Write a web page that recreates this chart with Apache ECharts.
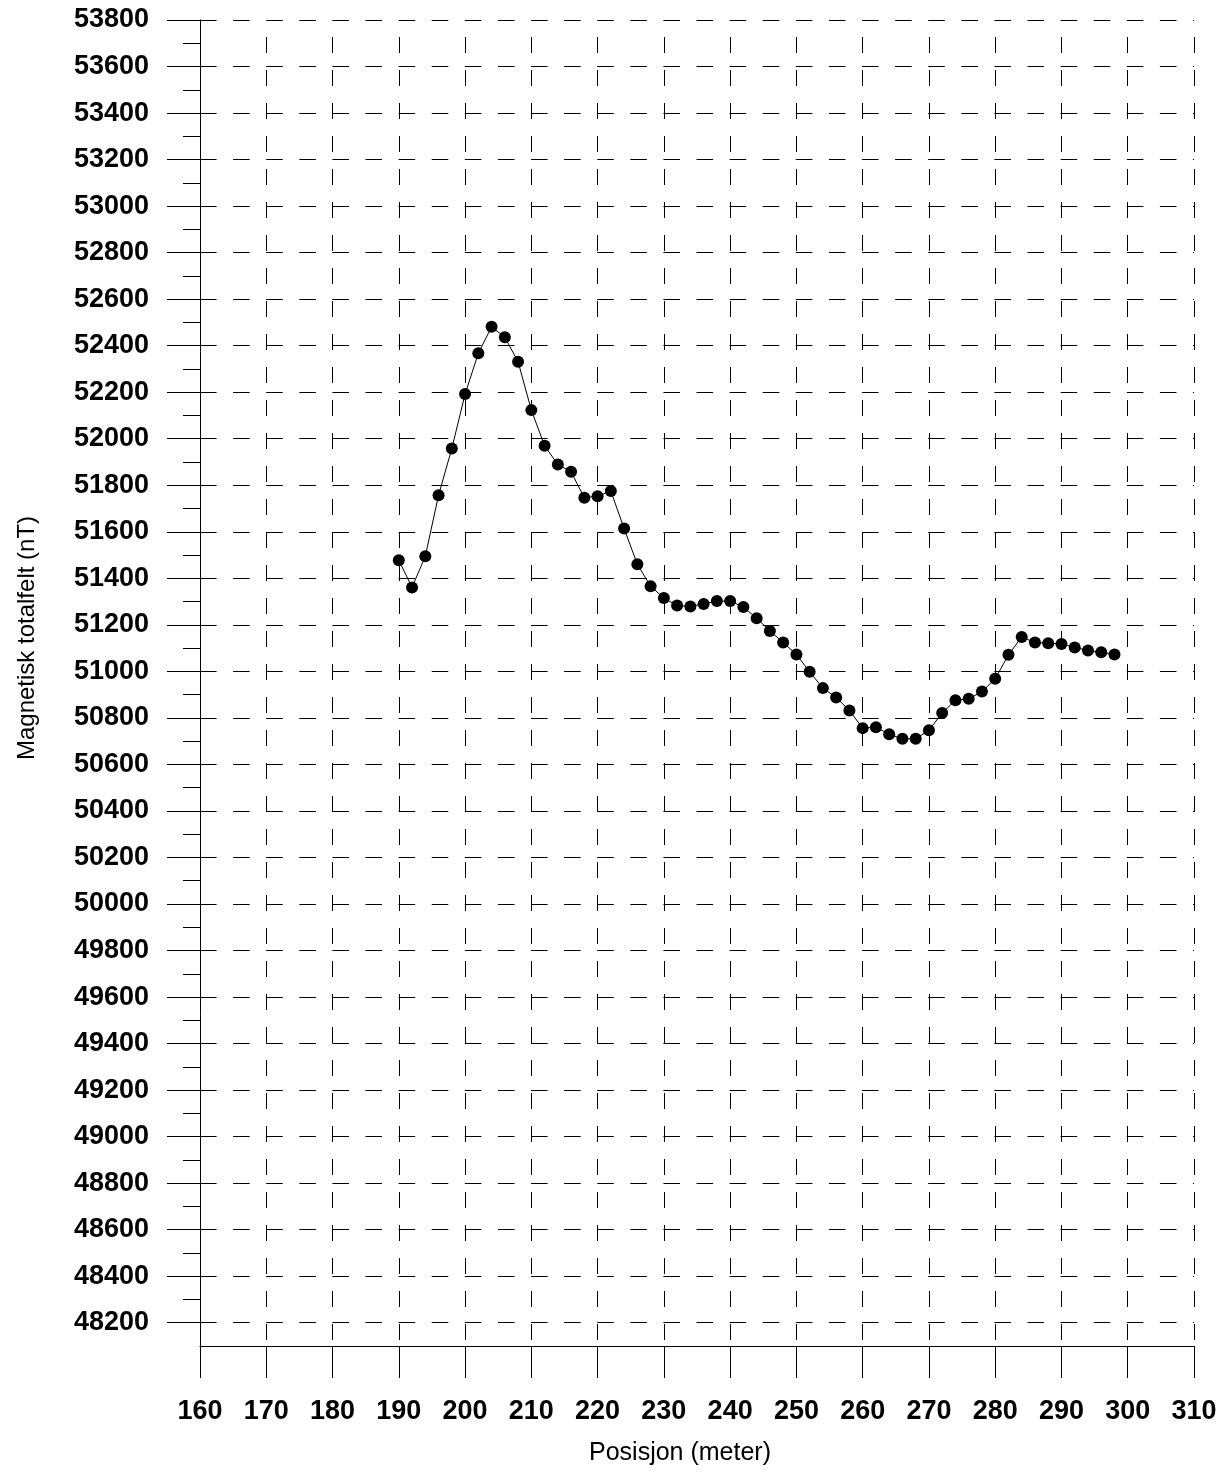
<!DOCTYPE html>
<html>
<head>
<meta charset="utf-8">
<title>Magnetisk totalfelt</title>
<script src="https://cdn.jsdelivr.net/npm/echarts@6/dist/echarts.min.js"></script>
<style>
  html, body { margin: 0; padding: 0; background: #fff; }
  #chart { width: 1230px; height: 1472px; }
</style>
</head>
<body>
<div id="chart"></div>
<script>
// Measurement positions along the profile (meter)
const positions = [
  190, 192, 194, 196, 198, 200, 202, 204, 206, 208,
  210, 212, 214, 216, 218, 220, 222, 224, 226, 228,
  230, 232, 234, 236, 238, 240, 242, 244, 246, 248,
  250, 252, 254, 256, 258, 260, 262, 264, 266, 268,
  270, 272, 274, 276, 278, 280, 282, 284, 286, 288,
  290, 292, 294, 296, 298
];

// Total magnetic field at each position (nT)
const totalField = [
  51478, 51361, 51495, 51757, 51958, 52192, 52367, 52481, 52436, 52331,
  52123, 51970, 51889, 51858, 51746, 51753, 51775, 51614, 51460, 51366,
  51315, 51283, 51279, 51290, 51302, 51302, 51277, 51228, 51174, 51124,
  51073, 50998, 50928, 50888, 50832, 50756, 50760, 50730, 50710, 50710,
  50747, 50821, 50876, 50882, 50913, 50968, 51071, 51148, 51124, 51121,
  51118, 51103, 51090, 51082, 51073
];

// Labelled field values (major ticks) and the unlabelled ones between them
const majorFieldTicks = [
  48200, 48400, 48600, 48800, 49000, 49200, 49400, 49600, 49800, 50000,
  50200, 50400, 50600, 50800, 51000, 51200, 51400, 51600, 51800, 52000,
  52200, 52400, 52600, 52800, 53000, 53200, 53400, 53600, 53800
];
const minorFieldTicks = [
  48300, 48500, 48700, 48900, 49100, 49300, 49500, 49700, 49900, 50100,
  50300, 50500, 50700, 50900, 51100, 51300, 51500, 51700, 51900, 52100,
  52300, 52500, 52700, 52900, 53100, 53300, 53500, 53700
];

const fieldMin = 48100;
const fieldMax = 53800;
const posMin = 160;
const posMax = 310;

const xTitle = 'Posisjon (meter)';
const yTitle = 'Magnetisk totalfelt (nT)';

const FONT = '"Liberation Sans", Arial, Helvetica, sans-serif';

const seriesData = positions.map((p, i) => [p, totalField[i]]);

const chart = echarts.init(document.getElementById('chart'), null, { renderer: 'canvas' });

const plain = v => String(v);

chart.setOption({
  animation: false,
  backgroundColor: '#ffffff',
  grid: { left: 200, top: 20, right: 36, bottom: 126, containLabel: false },
  xAxis: {
    type: 'value',
    min: posMin,
    max: posMax,
    interval: 10,
    axisLine: { show: true, lineStyle: { color: '#000', width: 1 } },
    axisTick: { show: true, length: 32, lineStyle: { color: '#000', width: 1 } },
    axisLabel: {
      show: true,
      margin: 52,
      formatter: plain,
      color: '#000',
      fontSize: 27,
      fontWeight: 'bold',
      fontFamily: FONT
    },
    splitLine: {
      show: true,
      lineStyle: { color: '#000', width: 1, type: [16, 17], dashOffset: 16 }
    }
  },
  yAxis: [
    {
      // short unlabelled ticks every 100 nT, plus the axis line
      type: 'value',
      position: 'left',
      min: fieldMin,
      max: fieldMax,
      interval: 100,
      axisLine: { show: true, lineStyle: { color: '#000', width: 1 } },
      axisTick: { show: true, length: 17, customValues: minorFieldTicks, lineStyle: { color: '#000', width: 1 } },
      axisLabel: { show: false },
      splitLine: { show: false }
    },
    {
      // labelled ticks and dashed horizontal grid every 200 nT
      type: 'value',
      position: 'left',
      min: fieldMin,
      max: fieldMax,
      interval: 100,
      axisLine: { show: false },
      axisTick: { show: true, length: 33, customValues: majorFieldTicks, lineStyle: { color: '#000', width: 1 } },
      axisLabel: {
        show: true,
        customValues: majorFieldTicks,
        formatter: plain,
        margin: 51,
        color: '#000',
        fontSize: 27,
        fontWeight: 'bold',
        fontFamily: FONT
      },
      splitLine: {
        show: true,
        lineStyle: { color: '#000', width: 1, type: [16.6, 16.5] }
      }
    }
  ],
  graphic: [
    {
      type: 'text',
      x: 27,
      y: 638,
      rotation: Math.PI / 2,
      style: {
        text: yTitle,
        fill: '#000',
        font: '24px ' + FONT,
        align: 'center',
        verticalAlign: 'middle'
      }
    },
    {
      type: 'text',
      x: 680,
      y: 1453,
      style: {
        text: xTitle,
        fill: '#000',
        font: '25px ' + FONT,
        align: 'center',
        verticalAlign: 'middle'
      }
    }
  ],
  series: [
    {
      type: 'line',
      xAxisIndex: 0,
      yAxisIndex: 1,
      data: seriesData,
      symbol: 'circle',
      symbolSize: 12,
      showSymbol: true,
      itemStyle: { color: '#000' },
      lineStyle: { color: '#000', width: 1 },
      clip: false
    }
  ]
});
</script>
</body>
</html>
